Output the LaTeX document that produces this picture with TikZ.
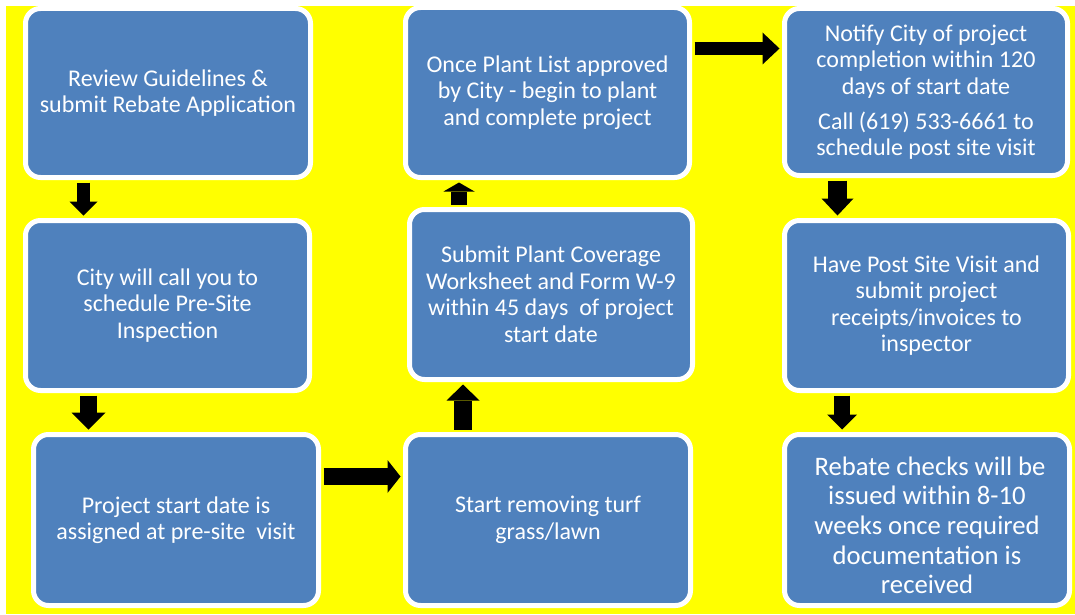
\documentclass[tikz,border=0pt]{standalone}
\usepackage{fontspec}
\setmainfont{Carlito}
\usetikzlibrary{arrows.meta,calc}
\definecolor{boxblue}{HTML}{4F81BD}
\definecolor{bgyellow}{HTML}{FFFF00}
\tikzset{
  stepbox/.style={draw=white, line width=5pt, fill=boxblue, rounded corners=15pt,
    text=white, align=center, font=\fontsize{24}{26.5}\selectfont,
    inner sep=0pt},
  blockarr/.style n args={3}{line width=#1pt, draw=black,
    -{Triangle[width=#2pt,length=#3pt,line width=0pt]},
    shorten <=2.5pt, shorten >=2.5pt}
}
\begin{document}
\begin{tikzpicture}[x=1pt,y=-1pt]
\useasboundingbox (0,0) rectangle (1075,615);
\fill[white] (0,0) rectangle (1075,615);
\fill[bgyellow] (6,6) rectangle (1075,614);

\node[stepbox, minimum width=285pt, minimum height=169pt] (b1) at (168,93)
  {Review Guidelines \&\\submit Rebate Application};
\node[stepbox, minimum width=284pt, minimum height=170pt] (b2) at (167.5,305.5)
  {City will call you to\\schedule Pre-Site\\Inspection};
\node[stepbox, minimum width=285pt, minimum height=171pt] (b3) at (176,520)
  {Project start date is\\assigned at pre-site\ \ visit};
\node[stepbox, minimum width=285pt, minimum height=171pt] (b4) at (548,520)
  {Start removing turf\\grass/lawn};
\node[stepbox, minimum width=283pt, minimum height=170pt] (b5) at (551,294.5)
  {Submit Plant Coverage\\Worksheet and Form W-9\\within 45 days\ \ of project\\start date};
\node[stepbox, minimum width=284pt, minimum height=170pt] (b6) at (547.5,92.5)
  {Once Plant List approved\\by City - begin to plant\\and complete project};
\node[stepbox, minimum width=283pt, minimum height=167pt] (b7) at (926,92)
  {Notify City of project\\completion within 120\\days of start date\\[8.5pt]Call (619) 533-6661 to\\schedule post site visit};
\node[stepbox, minimum width=284pt, minimum height=170pt] (b8) at (926.5,305.5)
  {Have Post Site Visit and\\submit project\\receipts/invoices to\\inspector};
\node[stepbox, minimum width=285pt, minimum height=171pt,
  font=\fontsize{26.7}{29.7}\selectfont] (b9) at (927,520)
  {\rule{0pt}{29pt}\ Rebate checks will be\\issued within 8-10\\weeks once required\\documentation is\\received};

\draw[blockarr={13}{28}{14}] ($(b1.south)+(-84.5,0)$) -- ($(b2.north)+(-84,0)$);
\draw[blockarr={17}{34}{17}] ($(b2.south)+(-79,0)$) -- ($(b3.north)+(-87.5,0)$);
\draw[blockarr={17}{33}{13}] ($(b3.east)+(0,-43.5)$) -- ($(b4.west)+(0,-43.5)$);
\draw[blockarr={18}{33}{16}] ($(b4.north)+(-85,0)$) -- ($(b5.south)+(-88,0)$);
\draw[blockarr={16}{31}{9}] ($(b5.north)+(-92,0)$) -- ($(b6.south)+(-88.5,0)$);
\draw[blockarr={13}{32}{17}] ($(b6.east)+(0,-44)$) -- ($(b7.west)+(0,-43.5)$);
\draw[blockarr={19}{32}{17}] ($(b7.south)+(-88.5,0)$) -- ($(b8.north)+(-89,0)$);
\draw[blockarr={16}{30}{15}] ($(b8.south)+(-84.5,0)$) -- ($(b9.north)+(-85,0)$);
\end{tikzpicture}
\end{document}
